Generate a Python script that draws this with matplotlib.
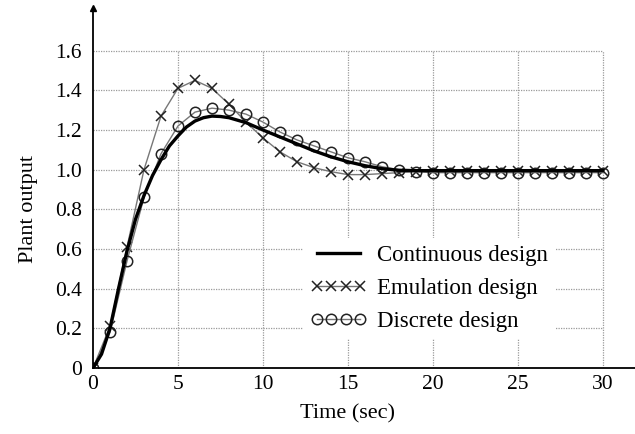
# Step response of the plant for the three controller designs

from matplotlib import pyplot as plt
from matplotlib.transforms import blended_transform_factory

plt.rcParams['font.family'] = ['Liberation Serif', 'DejaVu Serif']

# continuous design (smooth curve)
t_cont = [0, 0.5, 1, 1.5, 2, 2.5, 3, 3.5, 4, 4.5, 5, 5.5, 6, 6.5, 7, 7.5, 8, 9, 10,
          11, 12, 13, 14, 15, 16, 17, 18, 19, 20, 22, 25, 30]
y_cont = [0, 0.07, 0.20, 0.40, 0.59, 0.75, 0.87, 0.97, 1.05, 1.12, 1.17, 1.215, 1.245,
          1.262, 1.27, 1.268, 1.262, 1.237, 1.20, 1.165, 1.13, 1.095, 1.065, 1.04,
          1.02, 1.005, 0.997, 0.995, 0.995, 0.995, 0.995, 0.995]

# sampled designs, one sample per second
t_samp = list(range(0, 31))
y_emul = [0, 0.21, 0.61, 1.00, 1.27, 1.41, 1.45, 1.41, 1.33, 1.24, 1.16, 1.09, 1.04,
          1.01, 0.99, 0.975, 0.975, 0.98, 0.985, 0.99] + [0.995] * 11
y_disc = [0, 0.18, 0.54, 0.86, 1.08, 1.22, 1.29, 1.31, 1.30, 1.28, 1.24, 1.19, 1.15,
          1.12, 1.09, 1.06, 1.04, 1.015, 1.0, 0.99] + [0.985] * 11

x_ticks = [0, 5, 10, 15, 20, 25, 30]
y_ticks = [0, 0.2, 0.4, 0.6, 0.8, 1.0, 1.2, 1.4, 1.6]
y_tick_labels = ["0", "0.2", "0.4", "0.6", "0.8", "1.0", "1.2", "1.4", "1.6"]

fig = plt.figure(figsize=(6.35, 4.34), dpi=100)
ax = fig.add_axes([0.1465, 0.152, 0.8535, 0.8296])
ax.set_xlim(0, 31.9)
ax.set_ylim(0, 1.815)

# grid only covers the 0..30 x 0..1.6 box
ax.vlines(x_ticks[1:], 0, 1.6, colors="#9a9a9a", linestyles=(0, (1, 1)), linewidth=0.9, zorder=0)
ax.hlines(y_ticks[1:], 0, 30, colors="#9a9a9a", linestyles=(0, (1, 1)), linewidth=0.9, zorder=0)

ax.plot(t_samp, y_emul, color="#777777", linewidth=1.0, marker="x", markersize=7.5,
        markeredgecolor="#222222", markeredgewidth=1.1, zorder=2, label="Emulation design")
ax.plot(t_samp, y_disc, color="#777777", linewidth=1.0, marker="o", markersize=7.5,
        markerfacecolor="none", markeredgecolor="#222222", markeredgewidth=1.1, zorder=2,
        label="Discrete design")
ax.plot(t_cont, y_cont, color="black", linewidth=2.4, zorder=3, label="Continuous design")

ax.spines["top"].set_visible(False)
ax.spines["right"].set_visible(False)
ax.spines["left"].set_linewidth(1.3)
ax.spines["bottom"].set_linewidth(1.3)
ax.plot(0, 1.815, marker="^", color="black", markersize=5, clip_on=False, zorder=5)

ax.set_xticks(x_ticks)
ax.set_yticks(y_ticks)
ax.set_yticklabels(y_tick_labels)
ax.tick_params(length=0, labelsize=15.5)
ax.tick_params(axis="x", pad=5)
ax.tick_params(axis="y", pad=8)

# axis labels are centred on the gridded part of the axes
ax.set_xlabel("Time (sec)", fontsize=16)
ax.set_ylabel("Plant output", fontsize=16)
ax.xaxis.set_label_coords(15, -0.1, transform=blended_transform_factory(ax.transData, ax.transAxes))
ax.yaxis.set_label_coords(-0.102, 0.8, transform=blended_transform_factory(ax.transAxes, ax.transData))

handles, labels = ax.get_legend_handles_labels()
order = [2, 0, 1]
leg = ax.legend([handles[i] for i in order], [labels[i] for i in order],
                loc="upper left", bbox_to_anchor=(0.477, 0.452), bbox_transform=fig.transFigure,
                frameon=True, fontsize=16.5, numpoints=4, handlelength=2.5, handletextpad=0.45,
                labelspacing=0.52, borderpad=0.3, borderaxespad=0)
leg.get_frame().set_edgecolor("none")
leg.get_frame().set_facecolor("white")
leg.get_frame().set_alpha(1)

plt.savefig("out.png", dpi=100)
